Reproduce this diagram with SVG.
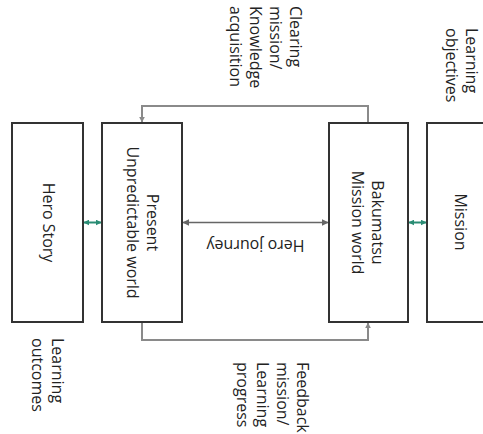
<svg xmlns="http://www.w3.org/2000/svg" width="483" height="434" viewBox="0 0 483 434">
<style>
  .box { fill: #ffffff; stroke: #333333; stroke-width: 2; }
  .t { font-family: "Open Sans", "Liberation Sans", sans-serif; font-size: 16px; fill: #222222; }
  .loop { fill: none; stroke: #8a8a8a; stroke-width: 2; }
  .mid { fill: none; stroke: #666666; stroke-width: 1.6; }
  .link { fill: none; stroke: #2a8c74; stroke-width: 2; }
</style>
<defs>
  <marker id="aGray" viewBox="0 0 10 10" refX="9" refY="5" markerWidth="6" markerHeight="6" markerUnits="userSpaceOnUse" orient="auto-start-reverse">
    <path d="M0,0 L10,5 L0,10 z" fill="#8a8a8a"/>
  </marker>
  <marker id="aDark" viewBox="0 0 10 10" refX="9" refY="5" markerWidth="7" markerHeight="7" markerUnits="userSpaceOnUse" orient="auto-start-reverse">
    <path d="M0,0 L10,5 L0,10 z" fill="#666666"/>
  </marker>
  <marker id="aTeal" viewBox="0 0 10 10" refX="9" refY="5" markerWidth="6" markerHeight="6" markerUnits="userSpaceOnUse" orient="auto-start-reverse">
    <path d="M0,0 L10,5 L0,10 z" fill="#2a8c74"/>
  </marker>
</defs>
<rect width="483" height="434" fill="#ffffff"/>

<g id="connectors">
  <polyline class="loop" points="368,123 368,106 142,106 142,122" marker-end="url(#aGray)"/>
  <polyline class="loop" points="142,322 142,340 368,340 368,323" marker-end="url(#aGray)"/>
  <line class="mid" x1="183" y1="222.5" x2="328" y2="222.5" marker-start="url(#aDark)" marker-end="url(#aDark)"/>
  <line class="link" x1="84" y1="222.5" x2="101" y2="222.5" marker-start="url(#aTeal)" marker-end="url(#aTeal)"/>
  <line class="link" x1="409" y1="222.5" x2="426" y2="222.5" marker-start="url(#aTeal)" marker-end="url(#aTeal)"/>
  <text class="t" text-anchor="start" transform="translate(290,6) rotate(90)"><tspan x="0" y="0">Clearing</tspan><tspan x="0" y="20">mission/</tspan><tspan x="0" y="40">Knowledge</tspan><tspan x="0" y="60">acquisition</tspan></text>
  <text class="t" text-anchor="start" transform="translate(297,362) rotate(90)"><tspan x="0" y="0">Feedback</tspan><tspan x="0" y="20">mission/</tspan><tspan x="0" y="40">Learning</tspan><tspan x="0" y="60">progress</tspan></text>
  <text class="t" text-anchor="middle" x="255.5" y="240" transform="rotate(180 255.5 240)">Hero journey</text>
</g>

<g id="hero-story">
  <rect class="box" x="12" y="123" width="71" height="199"/>
  <text class="t" text-anchor="middle" transform="translate(43,222.5) rotate(90)">Hero Story</text>
</g>

<g id="present-world">
  <rect class="box" x="102" y="123" width="80" height="199"/>
  <text class="t" text-anchor="middle" transform="translate(147,222.5) rotate(90)"><tspan x="0" y="0">Present</tspan><tspan x="0" y="20">Unpredictable world</tspan></text>
</g>

<g id="bakumatsu-world">
  <rect class="box" x="329" y="123" width="79" height="199"/>
  <text class="t" text-anchor="middle" transform="translate(372,222.5) rotate(90)"><tspan x="0" y="0">Bakumatsu</tspan><tspan x="0" y="20">Mission world</tspan></text>
</g>

<g id="mission">
  <rect class="box" x="427" y="123" width="80" height="199"/>
  <text class="t" text-anchor="middle" transform="translate(455,222) rotate(90)">Mission</text>
</g>

<g id="learning-objectives">
  <text class="t" text-anchor="start" transform="translate(466,28) rotate(90)"><tspan x="0" y="0">Learning</tspan><tspan x="0" y="20">objectives</tspan></text>
</g>

<g id="learning-outcomes">
  <text class="t" text-anchor="start" transform="translate(52,338) rotate(90)"><tspan x="0" y="0">Learning</tspan><tspan x="0" y="20">outcomes</tspan></text>
</g>
</svg>
